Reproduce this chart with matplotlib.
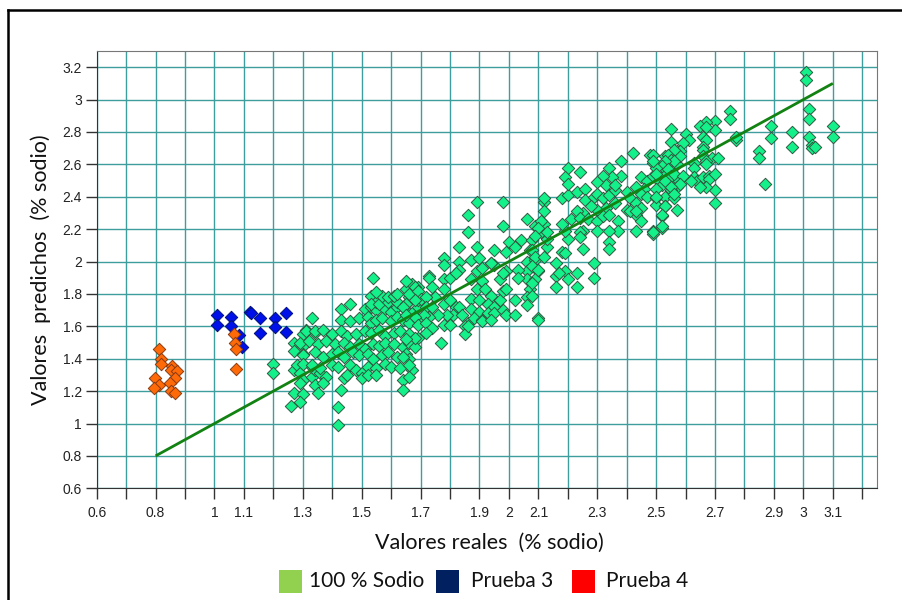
import matplotlib
matplotlib.use("Agg")
import matplotlib.pyplot as plt
from matplotlib.lines import Line2D
from matplotlib.patches import Rectangle

# ---------------- data ----------------
sodio_points = [
    # lower-left part of the cloud
    (1.20, 1.37), (1.20, 1.31), (1.27, 1.50), (1.27, 1.45), (1.30, 1.48), (1.30, 1.43), (1.33, 1.65),
    (1.31, 1.58), (1.34, 1.56), (1.27, 1.33), (1.28, 1.36), (1.29, 1.31), (1.30, 1.27), (1.33, 1.29),
    (1.34, 1.24), (1.35, 1.19), (1.33, 1.35), (1.34, 1.33), (1.36, 1.31), (1.27, 1.19), (1.30, 1.18),
    (1.26, 1.11), (1.29, 1.13), (1.43, 1.21), (1.42, 1.10), (1.42, 0.99), (1.43, 1.71), (1.46, 1.74),
    (1.51, 1.71), (1.53, 1.72), (1.55, 1.70), (1.58, 1.71), (1.60, 1.69), (1.62, 1.72), (1.65, 1.70), (1.67, 1.68),
    (1.43, 1.64), (1.46, 1.63), (1.49, 1.65), (1.52, 1.66), (1.53, 1.62), (1.55, 1.64), (1.57, 1.65),
    (1.60, 1.63), (1.62, 1.66), (1.64, 1.64), (1.66, 1.62), (1.69, 1.64),
    (1.30, 1.55), (1.31, 1.57), (1.34, 1.57), (1.37, 1.58), (1.40, 1.55), (1.43, 1.57), (1.45, 1.54),
    (1.48, 1.55), (1.51, 1.57), (1.53, 1.56), (1.56, 1.58), (1.58, 1.54), (1.61, 1.56), (1.63, 1.57),
    (1.66, 1.55), (1.69, 1.53),
    (1.29, 1.50), (1.32, 1.51), (1.35, 1.49), (1.38, 1.51), (1.41, 1.49), (1.44, 1.50), (1.46, 1.47),
    (1.49, 1.49), (1.51, 1.46), (1.54, 1.49), (1.56, 1.48), (1.58, 1.50), (1.61, 1.49), (1.64, 1.47),
    (1.66, 1.50), (1.68, 1.47),
    (1.30, 1.42), (1.34, 1.44), (1.37, 1.41), (1.40, 1.43), (1.42, 1.44), (1.44, 1.41), (1.47, 1.44),
    (1.49, 1.42), (1.52, 1.43), (1.54, 1.40), (1.57, 1.42), (1.59, 1.44), (1.62, 1.41), (1.65, 1.43), (1.66, 1.40),
    (1.30, 1.37), (1.33, 1.36), (1.36, 1.34), (1.40, 1.36), (1.42, 1.35), (1.46, 1.36), (1.48, 1.33),
    (1.50, 1.31), (1.52, 1.35), (1.55, 1.34), (1.58, 1.37), (1.60, 1.35), (1.63, 1.34), (1.67, 1.33),
    (1.29, 1.25), (1.38, 1.29), (1.44, 1.28), (1.50, 1.28), (1.52, 1.30), (1.64, 1.27), (1.66, 1.29),
    (1.64, 1.21), (1.55, 1.30), (1.37, 1.25), (1.45, 1.30),
    (1.53, 1.79), (1.55, 1.75), (1.53, 1.74), (1.56, 1.74), (1.59, 1.75), (1.62, 1.75), (1.65, 1.74),
    (1.69, 1.72), (1.69, 1.76), (1.57, 1.79), (1.59, 1.78), (1.61, 1.79), (1.62, 1.80), (1.66, 1.78),
    (1.69, 1.79), (1.65, 1.83), (1.67, 1.86), (1.69, 1.84), (1.65, 1.88), (1.54, 1.90), (1.55, 1.81),
    (1.73, 1.91), (1.78, 2.02), (1.78, 1.98),
    # middle part
    (1.68, 1.84), (1.66, 1.80), (1.69, 1.82), (1.70, 1.77), (1.73, 1.90), (1.74, 1.84), (1.78, 1.89),
    (1.80, 1.90), (1.78, 1.83), (1.75, 1.78), (1.72, 1.78), (1.68, 1.76), (1.65, 1.74), (1.64, 1.72),
    (1.72, 1.72), (1.74, 1.72), (1.78, 1.74), (1.80, 1.76), (1.82, 1.72), (1.81, 1.67), (1.83, 1.72),
    (1.84, 1.67), (1.86, 1.62), (1.85, 1.60), (1.79, 1.67), (1.76, 1.67), (1.73, 1.66), (1.71, 1.67),
    (1.68, 1.66), (1.65, 1.67), (1.69, 1.61), (1.72, 1.62), (1.74, 1.59), (1.78, 1.61), (1.80, 1.61),
    (1.72, 1.56), (1.77, 1.50), (1.85, 1.55), (1.68, 1.53), (1.65, 1.52), (1.64, 1.41), (1.66, 1.36),
    (1.87, 2.01), (1.90, 2.02), (1.89, 1.94), (1.87, 1.89), (1.91, 1.88), (1.89, 1.83), (1.92, 1.83),
    (1.94, 1.79), (1.87, 1.77), (1.90, 1.76), (1.93, 1.74), (1.95, 1.72), (1.87, 1.71), (1.90, 1.69),
    (1.93, 1.68), (1.88, 1.65), (1.91, 1.64), (1.95, 1.68), (1.97, 1.76), (1.98, 1.70), (1.99, 1.67),
    (2.02, 1.76), (2.02, 1.67), (1.98, 1.82), (1.97, 1.89), (1.99, 1.94), (1.95, 1.98), (1.94, 1.99),
    (1.98, 1.93), (1.91, 1.63), (1.94, 1.64), (1.86, 1.60),
    (1.89, 2.37), (1.98, 2.37), (2.12, 2.37), (2.12, 2.31), (1.86, 2.29), (1.86, 2.18), (1.98, 2.22),
    (2.06, 2.26), (2.09, 2.22), (2.12, 2.23), (2.11, 2.18), (1.83, 2.09), (1.89, 2.09), (1.95, 2.07),
    (2.00, 2.12), (2.02, 2.09), (1.99, 2.06), (2.04, 2.13), (2.08, 2.13), (2.07, 2.07), (2.13, 2.09),
    (2.13, 2.14), (1.83, 2.00), (1.83, 1.95), (1.82, 1.93), (1.91, 1.96), (1.94, 1.99), (1.99, 1.83),
    (2.06, 2.00), (2.09, 2.01), (2.10, 1.94), (2.06, 1.94), (2.06, 1.89), (2.07, 1.83), (2.09, 1.89),
    (2.03, 1.95), (2.03, 1.90), (2.06, 1.78), (2.06, 1.73), (2.10, 1.65), (2.10, 1.64),
    # upper part
    (2.12, 2.39), (2.18, 2.39), (2.20, 2.41), (2.23, 2.43), (2.26, 2.45), (2.26, 2.38), (2.29, 2.40),
    (2.30, 2.42), (2.32, 2.39), (2.34, 2.41), (2.36, 2.44), (2.36, 2.36), (2.33, 2.33), (2.30, 2.32),
    (2.28, 2.34), (2.25, 2.30), (2.23, 2.31), (2.21, 2.26), (2.24, 2.27), (2.27, 2.26), (2.30, 2.25),
    (2.32, 2.28), (2.34, 2.29), (2.37, 2.25), (2.37, 2.19), (2.34, 2.19), (2.30, 2.19), (2.25, 2.19),
    (2.24, 2.18), (2.24, 2.15), (2.20, 2.14), (2.19, 2.19), (2.18, 2.23), (2.11, 2.25), (2.10, 2.21),
    (2.13, 2.18), (2.09, 2.16), (2.08, 2.07), (2.18, 2.06), (2.09, 2.03), (2.12, 2.03), (2.08, 1.97),
    (2.10, 1.95), (2.16, 1.99), (2.16, 1.91), (2.19, 1.94), (2.23, 1.93), (2.20, 1.89), (2.23, 1.84),
    (2.16, 1.84), (2.29, 1.99), (2.29, 1.90), (2.25, 2.08), (2.34, 2.12), (2.34, 2.08), (2.08, 1.87),
    (2.08, 1.79), (2.19, 2.05), (2.17, 1.93),
    (2.42, 2.67), (2.48, 2.66), (2.49, 2.61), (2.53, 2.65), (2.54, 2.61), (2.55, 2.66), (2.57, 2.60),
    (2.57, 2.68), (2.38, 2.62), (2.38, 2.53), (2.34, 2.58), (2.35, 2.52), (2.32, 2.53), (2.33, 2.47),
    (2.30, 2.49), (2.36, 2.47), (2.20, 2.58), (2.24, 2.55), (2.19, 2.52), (2.20, 2.48),
    (2.45, 2.52), (2.47, 2.50), (2.49, 2.53), (2.51, 2.50), (2.53, 2.54), (2.54, 2.49), (2.57, 2.51),
    (2.57, 2.46), (2.55, 2.44), (2.52, 2.47), (2.46, 2.45), (2.45, 2.42), (2.47, 2.40), (2.50, 2.39),
    (2.53, 2.40), (2.43, 2.46), (2.40, 2.43), (2.41, 2.39), (2.40, 2.32), (2.43, 2.36), (2.45, 2.33),
    (2.43, 2.29), (2.45, 2.25), (2.50, 2.35), (2.52, 2.28), (2.53, 2.34), (2.56, 2.39), (2.57, 2.32),
    (2.49, 2.19), (2.52, 2.21), (2.43, 2.19), (2.49, 2.17), (2.41, 2.31), (2.43, 2.31),
    (2.75, 2.93), (2.75, 2.88), (2.70, 2.87), (2.70, 2.81), (2.67, 2.86), (2.65, 2.84), (2.67, 2.83),
    (2.60, 2.79), (2.61, 2.75), (2.59, 2.73), (2.55, 2.82), (2.55, 2.74), (2.66, 2.77), (2.67, 2.75),
    (2.66, 2.71), (2.66, 2.69), (2.66, 2.65), (2.69, 2.64), (2.67, 2.62), (2.67, 2.60), (2.63, 2.61),
    (2.63, 2.58), (2.63, 2.52), (2.64, 2.50), (2.66, 2.52), (2.68, 2.53), (2.68, 2.51), (2.70, 2.54),
    (2.70, 2.44), (2.70, 2.36), (2.67, 2.46), (2.65, 2.46), (2.71, 2.64),
    (2.58, 2.68), (2.58, 2.65), (2.56, 2.69), (2.54, 2.66), (2.55, 2.63), (2.56, 2.62), (2.53, 2.62),
    (2.52, 2.59), (2.50, 2.58), (2.49, 2.66), (2.49, 2.62), (2.50, 2.54), (2.54, 2.57), (2.55, 2.53),
    (2.53, 2.50), (2.56, 2.54), (2.59, 2.53), (2.62, 2.50), (2.58, 2.48), (2.55, 2.46), (2.56, 2.42),
    (2.50, 2.45), (2.50, 2.40), (2.53, 2.34), (2.52, 2.29), (2.52, 2.22), (2.49, 2.18),
    (2.77, 2.75), (2.77, 2.77), (2.89, 2.84), (2.89, 2.76), (2.85, 2.68), (2.85, 2.64), (2.87, 2.48),
    (2.96, 2.80), (2.96, 2.71), (3.01, 3.17), (3.01, 3.12), (3.02, 2.94), (3.02, 2.88), (3.02, 2.77),
    (3.03, 2.72), (3.03, 2.70), (3.04, 2.71), (3.10, 2.84), (3.10, 2.77),
]

prueba3_x = [1.01, 1.01, 1.055, 1.055, 1.083, 1.092, 1.121, 1.125, 1.155, 1.155, 1.206, 1.206, 1.243, 1.243]
prueba3_y = [1.67, 1.61, 1.655, 1.60, 1.546, 1.47, 1.69, 1.68, 1.649, 1.557, 1.649, 1.598, 1.68, 1.567]

prueba4_x = [0.813, 0.82, 0.82, 0.855, 0.851, 0.874, 0.865, 0.797, 0.849, 0.813, 0.796, 0.851, 0.865,
             1.067, 1.07, 1.072, 1.072]
prueba4_y = [1.458, 1.40, 1.37, 1.355, 1.33, 1.326, 1.28, 1.279, 1.252, 1.238, 1.221, 1.202, 1.186,
             1.552, 1.495, 1.46, 1.336]

line_x = [0.8, 3.1]
line_y = [0.8, 3.1]

x_ticks = [0.6, 0.7, 0.8, 0.9, 1.0, 1.1, 1.2, 1.3, 1.4, 1.5, 1.6, 1.7, 1.8, 1.9, 2.0, 2.1, 2.2,
           2.3, 2.4, 2.5, 2.6, 2.7, 2.8, 2.9, 3.0, 3.1, 3.2]
x_tick_labels = ['0.6', '', '0.8', '', '1', '1.1', '', '1.3', '', '1.5', '', '1.7', '', '1.9', '2',
                 '2.1', '', '2.3', '', '2.5', '', '2.7', '', '2.9', '3', '3.1', '']
y_ticks = [0.6, 0.8, 1.0, 1.2, 1.4, 1.6, 1.8, 2.0, 2.2, 2.4, 2.6, 2.8, 3.0, 3.2]
y_tick_labels = ['0.6', '0.8', '1', '1.2', '1.4', '1.6', '1.8', '2', '2.2', '2.4', '2.6', '2.8', '3', '3.2']

legend_labels = ['100 % Sodio', 'Prueba 3', 'Prueba 4']
legend_colors = ['#92D050', '#002060', '#FF0000']

# ---------------- figure ----------------
W, H = 902, 600
fig = plt.figure(figsize=(W / 100, H / 100), dpi=100)
ax = fig.add_axes([96.7 / W, 1 - 488.3 / H, (877 - 96.7) / W, (488.3 - 51) / H])

sx = [p[0] for p in sodio_points]
sy = [p[1] for p in sodio_points]
ax.scatter(sx, sy, marker='D', s=40, facecolor='#14F08A', edgecolor='#2E5A40', linewidths=0.7, zorder=3)
ax.scatter(prueba3_x, prueba3_y, marker='D', s=40, facecolor='#0010E8', edgecolor='#00107A',
           linewidths=0.7, zorder=3)
ax.scatter(prueba4_x, prueba4_y, marker='D', s=40, facecolor='#FF6A08', edgecolor='#8A3A10',
           linewidths=0.7, zorder=4)
ax.plot(line_x, line_y, color='#128212', lw=2.0, zorder=5, solid_capstyle='butt')

ax.set_xlim(0.6, 3.25)
ax.set_ylim(0.6, 3.3)
ax.set_xticks(x_ticks)
ax.set_xticklabels(x_tick_labels, family='Liberation Sans', fontsize=10, color='#222222')
ax.set_yticks(y_ticks)
ax.set_yticklabels(y_tick_labels, family='Liberation Sans', fontsize=10, color='#222222')
ax.tick_params(axis='x', direction='out', length=8, width=1, color='#333333', pad=5)
ax.tick_params(axis='y', direction='out', length=8, width=1, color='#333333', pad=2.5)
ax.grid(True, color='#3E9E9E', lw=1.0)
ax.set_axisbelow(True)
for side in ['left', 'bottom']:
    ax.spines[side].set_color('#333333')
for side in ['top', 'right']:
    ax.spines[side].set_color('#777777')

fig.text(489 / W, 1 - 543 / H, 'Valores reales  (% sodio)', family='Lato', fontsize=15.5,
         ha='center', va='center', color='#111111')
fig.text(41 / W, 1 - 270 / H, 'Valores  predichos  (% sodio)', family='Lato', fontsize=15.5,
         ha='center', va='center', rotation=90, color='#111111')

# legend (drawn manually below the axes)
sq_left = [279, 436, 572]
txt_left = [309, 471, 606]
for xl, tl, lab, col in zip(sq_left, txt_left, legend_labels, legend_colors):
    fig.add_artist(Rectangle((xl / W, 1 - 592.5 / H), 23 / W, 23 / H, transform=fig.transFigure,
                             facecolor=col, edgecolor='none'))
    fig.text(tl / W, 1 - 581 / H, lab, family='Lato', fontsize=15, ha='left', va='center',
             color='#111111')

# outer frame
fig.add_artist(Line2D([8 / W, 1.0], [1 - 10 / H, 1 - 10 / H], transform=fig.transFigure,
                      color='black', lw=1.8))
fig.add_artist(Line2D([8 / W, 8 / W], [0.0, 1 - 10 / H], transform=fig.transFigure,
                      color='black', lw=1.8))

fig.savefig('out.png', dpi=100)
